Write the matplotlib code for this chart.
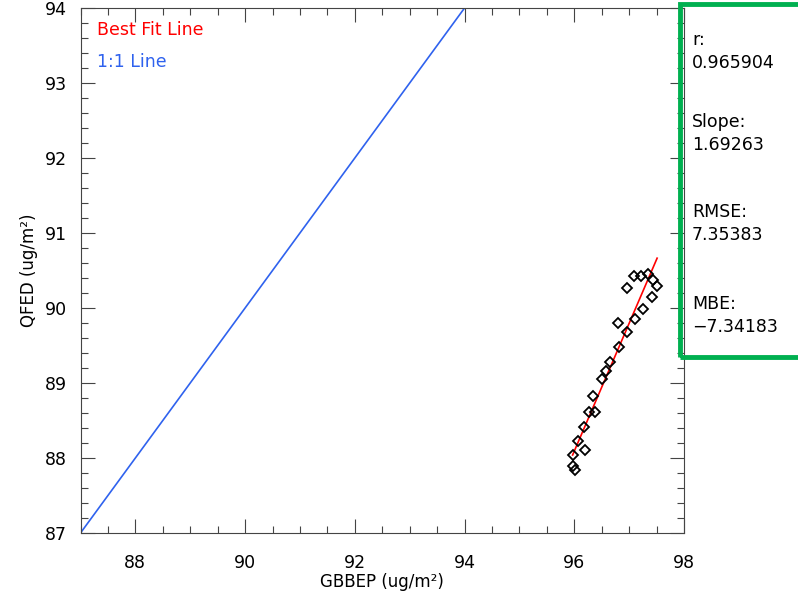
import numpy as np
import matplotlib
matplotlib.use("Agg")
import matplotlib.pyplot as plt
from matplotlib.ticker import MultipleLocator
from matplotlib.patches import Rectangle

# data
gbbep = [97.09, 97.21, 97.35, 97.44, 97.51, 96.97, 97.41, 97.26, 97.11, 96.80,
         96.97, 96.81, 96.66, 96.57, 96.51, 96.35, 96.26, 96.37, 96.18, 96.07,
         96.19, 95.97, 95.97, 96.01]
qfed = [90.43, 90.43, 90.45, 90.37, 90.29, 90.26, 90.14, 89.99, 89.85, 89.80,
        89.68, 89.48, 89.28, 89.16, 89.05, 88.83, 88.61, 88.61, 88.41, 88.23,
        88.11, 88.04, 87.89, 87.84]
one_to_one = [87, 94]
stat_labels = ["r:", "Slope:", "RMSE:", "MBE:"]
stat_values = ["0.965904", "1.69263", "7.35383", "\u22127.34183"]

fig = plt.figure(figsize=(7.98, 5.99), dpi=100)
ax = fig.add_axes([80.5/798, 1-533/599, (684-80.5)/798, (533-8)/599])

blue = "#2f62ee"
ax.plot(one_to_one, one_to_one, color=blue, lw=1.2)

x = np.array(gbbep); y = np.array(qfed)
m, b = np.polyfit(x, y, 1)
xl = np.array([x.min(), x.max()])
ax.plot(xl, m*xl + b, color="red", lw=1.2)
ax.plot(x, y, linestyle="none", marker="D", markersize=5.2, markerfacecolor="none",
        markeredgecolor="black", markeredgewidth=1.3)

ax.set_xlim(87, 98)
ax.set_ylim(87, 94)
ax.xaxis.set_major_locator(MultipleLocator(2))
ax.xaxis.set_minor_locator(MultipleLocator(0.5))
ax.yaxis.set_major_locator(MultipleLocator(1))
ax.yaxis.set_minor_locator(MultipleLocator(0.2))
ax.tick_params(which="both", direction="in", top=True, right=True, color="#444444")
ax.tick_params(which="major", length=10, width=0.8, labelsize=12.5)
ax.tick_params(axis="x", which="major", pad=15)
ax.tick_params(axis="y", which="major", pad=10)
ax.tick_params(which="minor", length=5, width=0.8)
for s in ax.spines.values():
    s.set_color("#444444")
    s.set_linewidth(0.8)

ax.set_xlabel("GBBEP (ug/m\u00b2)", fontsize=12, labelpad=1)
ax.set_ylabel("QFED (ug/m\u00b2)", fontsize=12, labelpad=5)

ax.text(97/798, 1-30/599, "Best Fit Line", transform=fig.transFigure, color="red",
        fontsize=12.5, va="center", ha="left")
ax.text(97/798, 1-62/599, "1:1 Line", transform=fig.transFigure, color=blue,
        fontsize=12.5, va="center", ha="left")

fig.patches.append(Rectangle((680/798, 1-357/599), 130/798, (357-4)/599,
                             transform=fig.transFigure, fill=False,
                             edgecolor="#00b050", linewidth=3.5, clip_on=False))
ys = [40, 122, 212, 304]
for lab, val, yy in zip(stat_labels, stat_values, ys):
    fig.text(692/798, 1-yy/599, lab, fontsize=12.5, va="center", ha="left")
    fig.text(692/798, 1-(yy+23)/599, val, fontsize=12.5, va="center", ha="left")

fig.savefig("out.png", dpi=100)
